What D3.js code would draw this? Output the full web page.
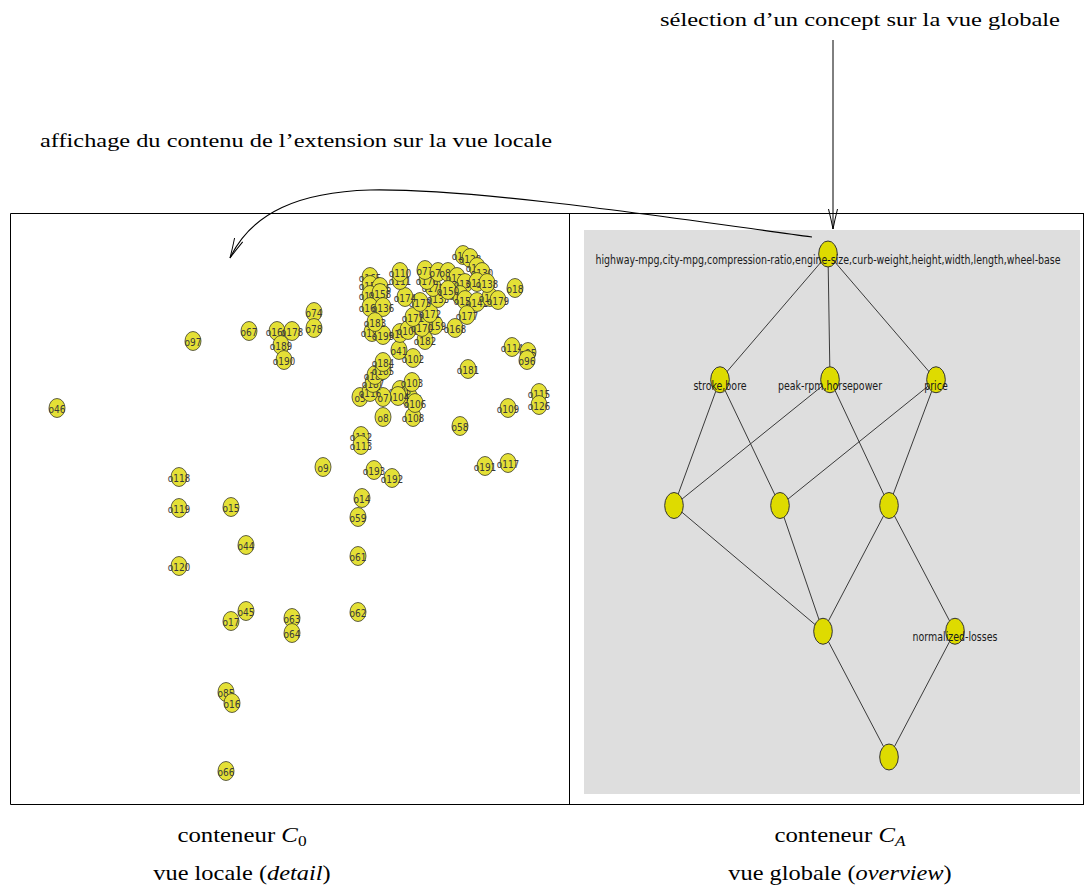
<!DOCTYPE html>
<html><head><meta charset="utf-8">
<script src="https://cdn.jsdelivr.net/npm/d3@7"></script>
<style>body{margin:0;background:#fff}</style>
</head><body><svg id="c" width="1084" height="887"></svg>
<script>
// ---- local view (detail): objects of the selected extension ----
const objLabels = ["o46","o97","o67","o160","o178","o189","o190","o74","o78","o118","o119","o120","o15","o44","o45","o17","o63","o64","o62","o61","o59","o14","o85","o16","o66","o9","o193","o192","o191","o117","o58","o112","o113","o109","o115","o126","o181","o114","o95","o96","o108","o8","o107","o106","o105","o104","o103","o7","o5","o116","o187","o186","o185","o184","o102","o41","o194","o195","o101","o100","o182","o159","o170","o171","o172","o173","o174","o133","o175","o176","o77","o111","o110","o165","o155","o156","o157","o158","o166","o136","o183","o79","o80","o127","o128","o129","o130","o131","o132","o137","o151","o152","o141","o177","o168","o140","o179","o138","o18","o150"];
const objX = [47,183,239,267,282,271,274,304,304,169,169,169,221,236,236,221,282,282,348,348,348,352,216,222,216,313,364,382,475,498,450,351,351,498,529,529,458,502,518,517,403,373,400,405,390,388,402,373,350,360,363,365,373,373,403,389,362,373,390,398,415,425,412,403,420,410,395,428,423,417,415,390,390,360,360,370,360,370,360,373,365,428,438,453,460,467,472,447,455,467,450,455,467,457,445,480,488,477,505,438];
const objY = [195,128,118,118,118,132,147,99,115,264,295,353,294,332,398,408,405,420,399,343,304,285,479,490,558,254,257,265,253,250,213,223,232,195,180,192,156,134,139,147,204,204,185,190,177,183,169,184,184,179,170,162,157,149,145,137,119,122,120,117,127,112,114,104,100,89,84,85,74,67,57,67,59,64,72,74,82,80,94,94,109,59,59,42,45,54,59,64,70,69,82,87,89,102,115,84,87,70,75,77];

// ---- global view (overview): concept lattice ----
const conceptLabels = ["highway-mpg,city-mpg,compression-ratio,engine-size,curb-weight,height,width,length,wheel-base","stroke,bore","peak-rpm,horsepower","price","","","","","normalized-losses",""];
const conceptLevel = [0,1,1,1,2,2,2,3,3,4];
const conceptX = [244,136,246,352,90,196,305,239,371,305];
const conceptEdges = [[0,1],[0,2],[0,3],[1,4],[1,5],[2,4],[2,6],[3,5],[3,6],[4,7],[5,7],[6,7],[6,8],[7,9],[8,9]];

// ---- annotations ----
const topNote = "sélection d\u2019un concept sur la vue globale";
const leftNote = "affichage du contenu de l\u2019extension sur la vue locale";
const captionLeft = ["conteneur ", "C", "0", "vue locale (", "detail", ")"];
const captionRight = ["conteneur ", "C", "A", "vue globale (", "overview", ")"];

const svg = d3.select("#c");
svg.append("rect").attr("width",1084).attr("height",887).attr("fill","#fff");

const defs = svg.append("defs");
defs.append("marker").attr("id","arr").attr("markerUnits","userSpaceOnUse")
  .attr("viewBox","-22 -7 24 14").attr("refX",0).attr("refY",0)
  .attr("markerWidth",24).attr("markerHeight",14).attr("orient","auto")
  .append("path").attr("d","M-20,-4.5 Q-8,-1.5 0,0 Q-8,1.5 -20,4.5")
  .attr("fill","none").attr("stroke","#000").attr("stroke-width",1);

// Panels
const leftX = d3.scaleLinear().domain([0,559]).range([10,569]);
const leftY = d3.scaleLinear().domain([0,591]).range([213,804]);
const gx = d3.scaleLinear().domain([0,496]).range([584,1080]);
const gy = d3.scaleLinear().domain([0,4]).range([254,757]);

svg.append("rect").attr("x",584).attr("y",230).attr("width",496).attr("height",564).attr("fill","#dedede");

const frame = svg.append("g").attr("stroke","#000").attr("stroke-width",1).attr("fill","none");
frame.append("path").attr("d","M10.5,804.5 L10.5,213.5 L1084,213.5 M10.5,804.5 L1084,804.5 M569.5,213.5 L569.5,804.5 M1083.5,213.5 L1083.5,804.5");

// Local view points
const objs = objLabels.map((l,i)=>({l, x:objX[i], y:objY[i]}));
const og = svg.append("g").selectAll("g").data(objs).join("g")
  .attr("transform", d=>`translate(${leftX(d.x)},${leftY(d.y)})`);
og.append("ellipse").attr("rx",8).attr("ry",9.5).attr("fill","#e4e036").attr("stroke","#3b3b2a").attr("stroke-width",0.8);
og.append("text").attr("y",5).attr("text-anchor","middle")
  .attr("font-family","'DejaVu Sans Condensed','DejaVu Sans',sans-serif").attr("font-stretch","condensed")
  .attr("font-size",10).attr("fill","#3a3a3a").text(d=>d.l);

// Lattice
const nodes = conceptLabels.map((l,i)=>({l, x:gx(conceptX[i]), y:gy(conceptLevel[i])}));
svg.append("g").selectAll("line").data(conceptEdges).join("line")
  .attr("x1",d=>nodes[d[0]].x).attr("y1",d=>nodes[d[0]].y)
  .attr("x2",d=>nodes[d[1]].x).attr("y2",d=>nodes[d[1]].y)
  .attr("stroke","#3a3a3a").attr("stroke-width",1);
svg.append("g").selectAll("ellipse").data(nodes).join("ellipse")
  .attr("cx",d=>d.x).attr("cy",d=>d.y).attr("rx",9.3).attr("ry",13)
  .attr("fill","#dedb00").attr("stroke","#333").attr("stroke-width",1);
const lt = svg.append("g").selectAll("text").data(nodes.filter(d=>d.l)).join("text")
  .attr("x",d=>d.x).attr("y",d=>d.y+10).attr("text-anchor","middle")
  .attr("font-family","'DejaVu Sans Condensed','DejaVu Sans',sans-serif").attr("font-stretch","condensed")
  .attr("font-size",12.5).attr("fill","#1a1a1a").text(d=>d.l);
lt.each(function(){ const w=this.getComputedTextLength(); d3.select(this).attr("textLength",w*0.84).attr("lengthAdjust","spacingAndGlyphs"); });

// Annotation texts
const serif = "'Liberation Serif','DejaVu Serif',serif";
svg.append("text").attr("x",660).attr("y",26).attr("font-family",serif).attr("font-size",19)
  .attr("textLength",400).attr("lengthAdjust","spacingAndGlyphs").text(topNote);
svg.append("text").attr("x",40).attr("y",147).attr("font-family",serif).attr("font-size",19)
  .attr("textLength",512).attr("lengthAdjust","spacingAndGlyphs").text(leftNote);

function caption(cx, parts){
  const g1 = svg.append("g").attr("transform",`translate(${cx},842) scale(1.24,1)`);
  const t1 = g1.append("text").attr("text-anchor","middle").attr("font-family",serif).attr("font-size",20);
  t1.append("tspan").text(parts[0]);
  t1.append("tspan").attr("font-style","italic").text(parts[1]);
  t1.append("tspan").attr("font-size",14).attr("dy",4).attr("font-style", parts[2]==="A"?"italic":"normal").text(parts[2]);
  const g2 = svg.append("g").attr("transform",`translate(${cx},880) scale(1.22,1)`);
  const t2 = g2.append("text").attr("text-anchor","middle").attr("font-family",serif).attr("font-size",20);
  t2.append("tspan").text(parts[3]);
  t2.append("tspan").attr("font-style","italic").text(parts[4]);
  t2.append("tspan").text(parts[5]);
}
caption(242, captionLeft);
caption(840, captionRight);

// Arrows
svg.append("path").attr("d","M833,40 L833,229").attr("stroke","#000").attr("fill","none").attr("marker-end","url(#arr)");
svg.append("path").attr("d","M812,237 C700,222 480,188 370,190 C300,192 252,212 230,258")
  .attr("stroke","#000").attr("fill","none").attr("stroke-width",1.1).attr("marker-end","url(#arr)");
</script></body></html>
